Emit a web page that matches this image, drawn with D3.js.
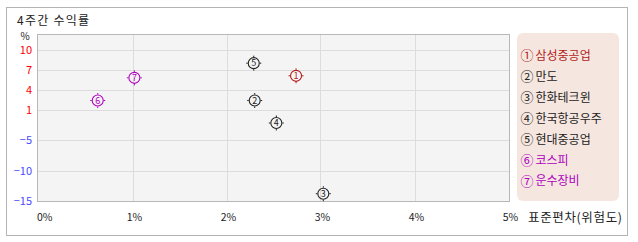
<!DOCTYPE html>
<html><head><meta charset="utf-8">
<script src="https://cdn.jsdelivr.net/npm/d3@7"></script>
<style>
html,body{margin:0;padding:0;background:#fff;}
svg{display:block;}
text{font-family:"Noto Sans CJK KR","Noto Sans",sans-serif;}
</style></head>
<body>
<script>
const names = ["삼성중공업","만도","한화테크윈","한국항공우주","현대중공업","코스피","운수장비"];
const circled = ["①","②","③","④","⑤","⑥","⑦"];
const stdDev = [2.74, 2.30, 3.03, 2.53, 2.29, 0.63, 1.02];
const returns = [6.2, 2.5, -13.7, -1.5, 8.1, 2.5, 5.9];
const seriesColors = ["#b01c1c","#222222","#222222","#222222","#222222","#b000c0","#b000c0"];
const yTicks = [10, 7, 4, 1, -5, -10, -15];
const xTicks = [0, 1, 2, 3, 4, 5];
const title = "4주간 수익률";
const xTitle = "표준편차(위험도)";
const yUnit = "%";

const W = 638, H = 242;
const svg = d3.select("body").append("svg").attr("width", W).attr("height", H);

svg.append("rect").attr("x", 6.5).attr("y", 7.5).attr("width", 621).attr("height", 228)
  .attr("fill", "#fff").attr("stroke", "#b4b4b4").attr("stroke-width", 1);

svg.append("text").attr("x", 17).attr("y", 25).attr("font-size", 12).attr("fill", "#222")
  .attr("textLength", 72).text(title);

const plot = {left: 37.5, right: 509.5, top: 34.5, bottom: 201.5};
const x = d3.scaleLinear().domain([0, 5]).range([38.5, 508.5]);
// piecewise (uneven) value axis as in the reference
const y = d3.scaleLinear()
  .domain([-15, -10, -5, 1, 4, 7, 10, 12.45])
  .range([201.5, 171.5, 140.5, 110.5, 90.5, 70.5, 50.5, 34.5]);

svg.append("rect").attr("x", plot.left).attr("y", plot.top)
  .attr("width", plot.right - plot.left).attr("height", plot.bottom - plot.top)
  .attr("fill", "#f4f4f4");

const g = svg.append("g");
g.selectAll("line.xg").data(xTicks.slice(1, -1)).join("line")
  .attr("x1", d => Math.round(x(d)) + 0.5).attr("x2", d => Math.round(x(d)) + 0.5)
  .attr("y1", plot.top).attr("y2", plot.bottom).attr("stroke", "#dcdcdc");
g.selectAll("line.yg").data(yTicks.filter(d => d !== -15)).join("line")
  .attr("y1", d => y(d)).attr("y2", d => y(d))
  .attr("x1", plot.left).attr("x2", plot.right).attr("stroke", "#dcdcdc");

svg.append("rect").attr("x", plot.left).attr("y", plot.top)
  .attr("width", plot.right - plot.left).attr("height", plot.bottom - plot.top)
  .attr("fill", "none").attr("stroke", "#b8b8b8");

const fmt = d3.format("d");
svg.selectAll("text.yl").data(yTicks).join("text")
  .attr("x", 32).attr("y", d => y(d)).attr("dy", "0.36em")
  .attr("text-anchor", "end").attr("font-size", 11)
  .attr("fill", d => d > 0 ? "#ff0000" : "#4a4aff")
  .attr("font-family", "'DejaVu Sans',sans-serif")
  .text(d => fmt(d));
svg.append("text").attr("x", 25).attr("y", 40).attr("text-anchor", "middle")
  .attr("font-size", 10).attr("fill", "#222").attr("font-family", "'DejaVu Sans',sans-serif").text(yUnit);

svg.selectAll("text.xl").data(xTicks).join("text")
  .attr("x", d => d === 0 ? 37 : x(d) + 2).attr("y", 221)
  .attr("text-anchor", d => d === 0 ? "start" : "middle")
  .attr("font-size", 10.5).attr("fill", "#222")
  .attr("font-family", "'DejaVu Sans',sans-serif")
  .text(d => d + "%");
svg.append("text").attr("x", 528).attr("y", 222).attr("font-size", 12.5).attr("fill", "#222")
  .attr("textLength", 94).text(xTitle);

const pts = names.map((n, i) => ({i, sx: stdDev[i], r: returns[i], c: seriesColors[i]}));
const m = svg.selectAll("g.m").data(pts).join("g")
  .attr("transform", d => `translate(${x(d.sx)},${y(d.r)})`);
m.append("circle").attr("r", 5.5).attr("fill", "none").attr("stroke", d => d.c).attr("stroke-width", 1.1);
[[0,-6,0,-7.5],[0,6,0,7.5],[-6,0,-7.5,0],[6,0,7.5,0]].forEach(s => {
  m.append("line").attr("x1", s[0]).attr("y1", s[1]).attr("x2", s[2]).attr("y2", s[3])
    .attr("stroke", d => d.c).attr("stroke-width", 1);
});
m.append("text").attr("text-anchor", "middle").attr("dy", "0.36em").attr("font-size", 9)
  .attr("font-family", "'DejaVu Sans',sans-serif").attr("fill", d => d.c).text(d => d.i + 1);

svg.append("rect").attr("x", 517).attr("y", 33).attr("width", 102).attr("height", 168)
  .attr("rx", 6).attr("fill", "#f5e7df");
const lg = svg.selectAll("g.lg").data(pts).join("g")
  .attr("transform", d => `translate(0,${55.7 + d.i * 20.9})`);
lg.append("text").attr("x", 527).attr("dy", "0.36em").attr("text-anchor", "middle")
  .attr("font-size", 13).attr("fill", d => d.c).text(d => circled[d.i]);
lg.append("text").attr("x", 535.5).attr("dy", "0.36em")
  .attr("font-size", 12).attr("fill", d => d.c).text(d => names[d.i]);
</script>
</body></html>
